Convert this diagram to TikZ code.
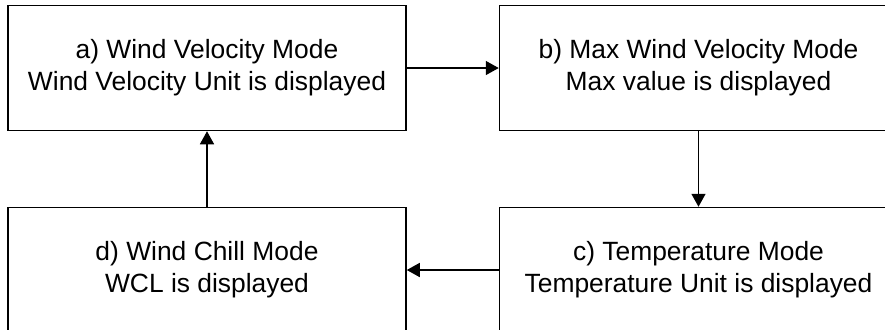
\documentclass[tikz,border=0pt]{standalone}
\usepackage{fontspec}
\setmainfont{Liberation Sans}
\usetikzlibrary{positioning,arrows.meta}

\tikzset{
modebox/.style={draw,line width=0.75pt,minimum width=199pt,minimum height=62.5pt,align=center,inner sep=0pt,font=\fontsize{13.2}{16}\selectfont},
modearrow/.style={line width=0.75pt,-{Triangle[length=6.5pt,width=7pt]}}
}

\begin{document}
\begin{tikzpicture}
\useasboundingbox (0,0) rectangle (442.5pt,-164.5pt);
\node [modebox] (velocity) at (103.5pt,-34pt)
{a) Wind Velocity Mode\\ Wind Velocity Unit is displayed};
\node [modebox,right=46pt of velocity] (maxvelocity)
{b) Max Wind Velocity Mode\\ Max value is displayed};
\node [modebox,below=37.75pt of maxvelocity] (temperature)
{c) Temperature Mode\\ Temperature Unit is displayed};
\node [modebox,left=46pt of temperature] (windchill)
{d) Wind Chill Mode\\ WCL is displayed};

\draw [modearrow] (velocity) -- (maxvelocity);
\draw [modearrow] (maxvelocity) -- (temperature);
\draw [modearrow] (temperature) -- (windchill);
\draw [modearrow] (windchill) -- (velocity);
\end{tikzpicture}
\end{document}
